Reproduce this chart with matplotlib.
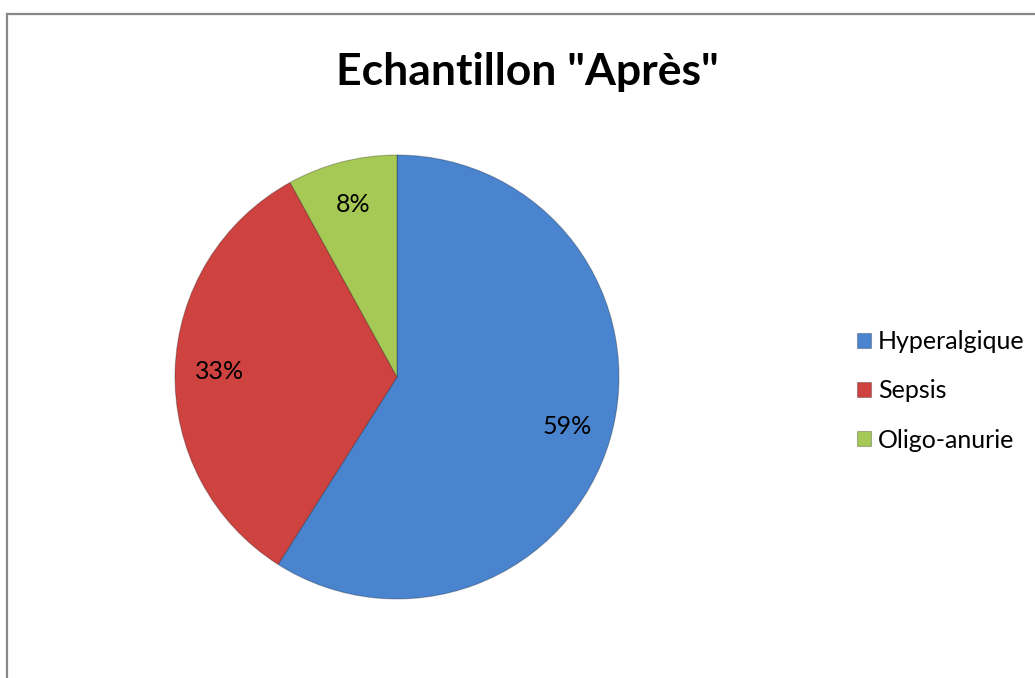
import matplotlib
matplotlib.use("Agg")
import matplotlib.pyplot as plt
from matplotlib.lines import Line2D

title = 'Echantillon "Après"'
categories = ["Hyperalgique", "Sepsis", "Oligo-anurie"]
values = [59, 33, 8]
colors = ["#4A84CF", "#CE4340", "#A6C955"]

plt.rcParams['font.family'] = ['Lato', 'DejaVu Sans']

W, H = 1035, 678
fig = plt.figure(figsize=(W / 100, H / 100), dpi=100)

# pie axes placed in pixel terms
cx, cy, r = 397, 377, 222
ax = fig.add_axes([(cx - r) / W, (H - cy - r) / H, 2 * r / W, 2 * r / H])
wedges, texts, autotexts = ax.pie(
    values, colors=colors, startangle=90, counterclock=False,
    autopct=lambda p: f"{p:.0f}%", pctdistance=0.80, radius=1,
    wedgeprops=dict(edgecolor=(0, 0, 0, 0.25), linewidth=0.8),
    textprops=dict(fontsize=18, color="black"))
ax.set_xlim(-1, 1)
ax.set_ylim(-1, 1)
ax.set_aspect("equal")
ax.axis("off")

fig.text(527 / W, 1 - 72 / H, title, ha="center", va="center",
         fontsize=32, fontweight="bold")

fig.legend(wedges, categories, loc="center left",
           bbox_to_anchor=(857 / W, 1 - 391 / H), frameon=False,
           fontsize=18, handlelength=0.55, handleheight=0.55,
           handletextpad=0.3, labelspacing=1.05, borderpad=0, borderaxespad=0)

# chart frame (top and left edges visible)
fig.add_artist(Line2D([7 / W, 1], [1 - 14 / H, 1 - 14 / H], color="#888888",
                      linewidth=1.6, transform=fig.transFigure))
fig.add_artist(Line2D([7 / W, 7 / W], [0, 1 - 14 / H], color="#888888",
                      linewidth=1.6, transform=fig.transFigure))

fig.savefig("out.png", dpi=100)
